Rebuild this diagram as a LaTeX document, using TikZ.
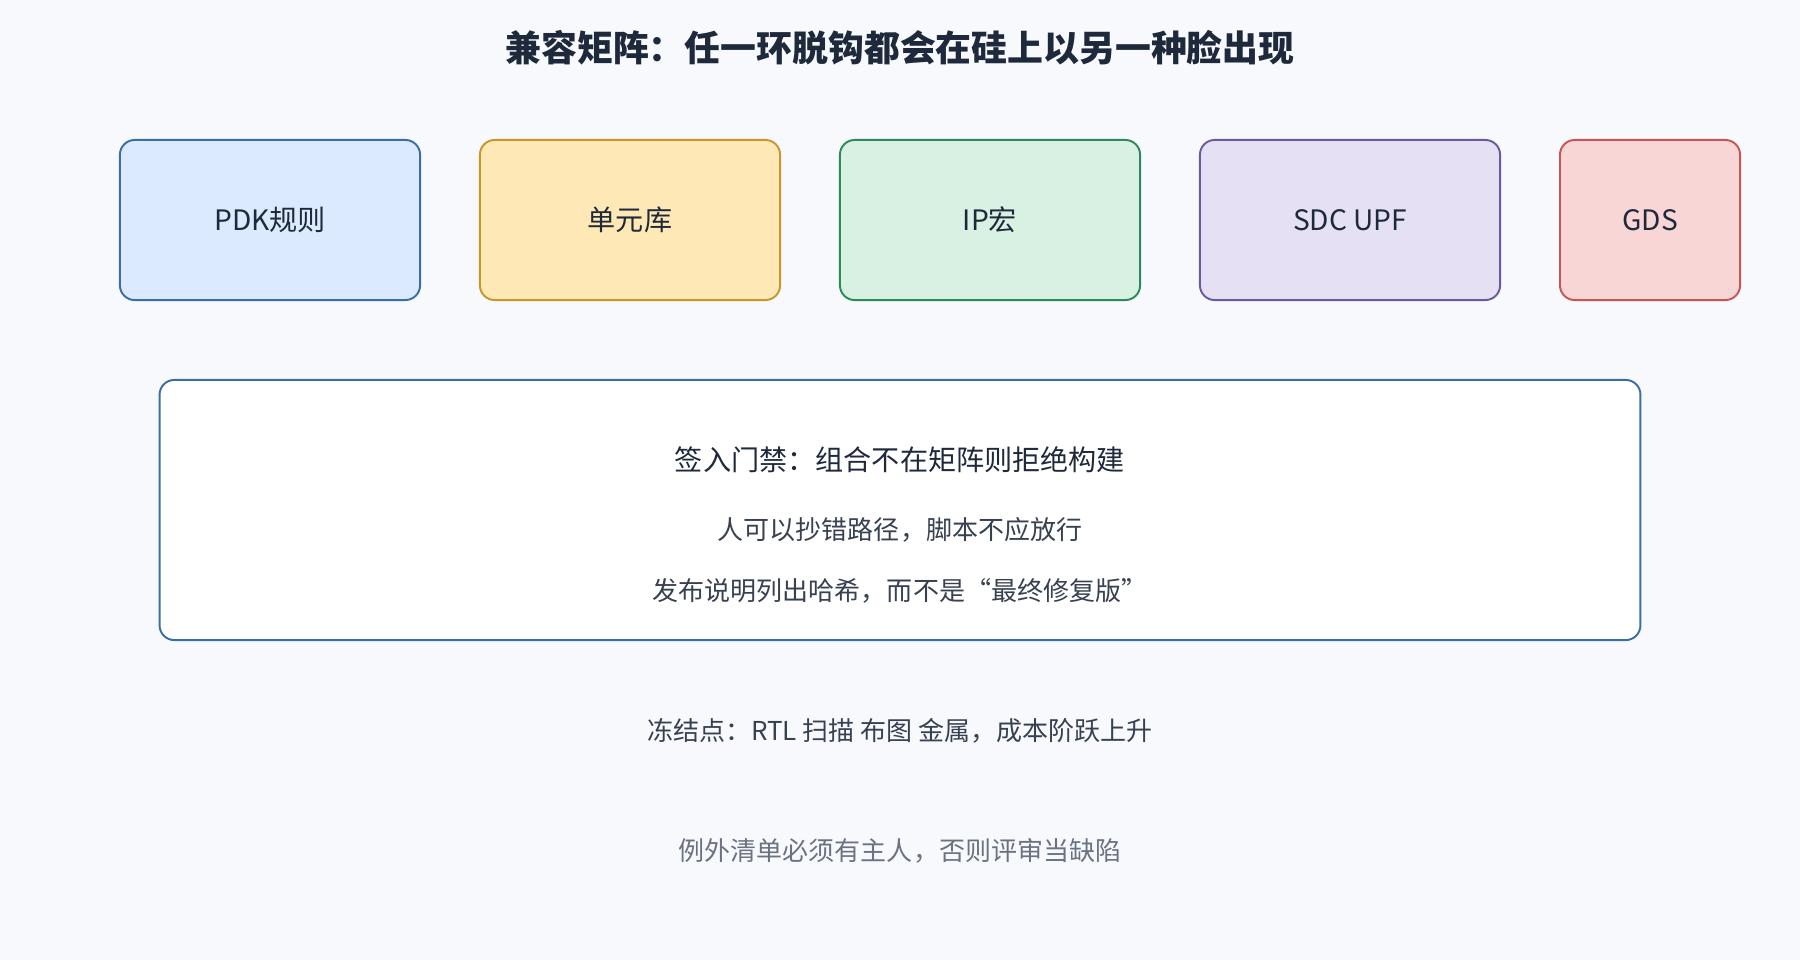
\documentclass[tikz,border=0pt]{standalone}
\usepackage{fontspec}
\setmainfont{Noto Sans CJK SC}
\usepackage{tikz}
\usetikzlibrary{positioning}

\definecolor{bgpage}{HTML}{F7F9FD}
\definecolor{inkdark}{HTML}{1E293B}
\definecolor{inkmid}{HTML}{374151}
\definecolor{inkgray}{HTML}{6B7280}
\definecolor{pdkline}{HTML}{3B6EA5}\definecolor{pdkfill}{HTML}{DBEAFE}
\definecolor{libline}{HTML}{C8962A}\definecolor{libfill}{HTML}{FEE9B6}
\definecolor{ipline}{HTML}{2E8B57}\definecolor{ipfill}{HTML}{D9F1E2}
\definecolor{sdcline}{HTML}{6B5B9A}\definecolor{sdcfill}{HTML}{E6E0F4}
\definecolor{gdsline}{HTML}{C95555}\definecolor{gdsfill}{HTML}{F9D6D6}

\newcommand{\px}[1]{\fontsize{#1pt}{#1pt}\selectfont}

\begin{document}
\begin{tikzpicture}[x=0.01cm,y=-0.01cm,
    part/.style={draw, line width=0.55pt, rounded corners=4.2pt, minimum height=1.6cm,
                 text=inkdark, font=\px{8}, inner sep=0pt},
    gate/.style={draw=pdkline, fill=white, line width=0.55pt, rounded corners=4.2pt,
                 minimum width=14.8cm, minimum height=2.6cm},
    note/.style={text=inkmid, font=\px{7.4}, inner sep=0pt}]
    \fill[bgpage] (0,0) rectangle (1800,960);
    \useasboundingbox (0,0) rectangle (1800,960);

    \node (title) [text=inkdark, font=\bfseries\px{10.2}] at (900,48) {兼容矩阵：任一环脱钩都会在硅上以另一种脸出现};

    \node (pdk) [part, draw=pdkline, fill=pdkfill, minimum width=3cm] at (270,220) {PDK规则};
    \node (lib) [part, draw=libline, fill=libfill, minimum width=3cm] at (630,220) {单元库};
    \node (ip)  [part, draw=ipline,  fill=ipfill,  minimum width=3cm] at (990,220) {IP宏};
    \node (sdc) [part, draw=sdcline, fill=sdcfill, minimum width=3cm] at (1350,220) {SDC UPF};
    \node (gds) [part, draw=gdsline, fill=gdsfill, minimum width=1.8cm] at (1650,220) {GDS};

    \node (gatebox) [gate] at (900,510) {};
    \node (gatetitle) [text=inkdark, font=\px{8}, inner sep=0pt] at (900,460) {签入门禁：组合不在矩阵则拒绝构建};
    \node (copy) [note] at (900,530) {人可以抄错路径，脚本不应放行};
    \node (hash) [note] at (900,591) {发布说明列出哈希，而不是“最终修复版”};

    \node (freeze) [note] at (900,731) {冻结点：RTL 扫描 布图 金属，成本阶跃上升};
    \node (owner) [note, text=inkgray] at (900,851) {例外清单必须有主人，否则评审当缺陷};
\end{tikzpicture}
\end{document}
